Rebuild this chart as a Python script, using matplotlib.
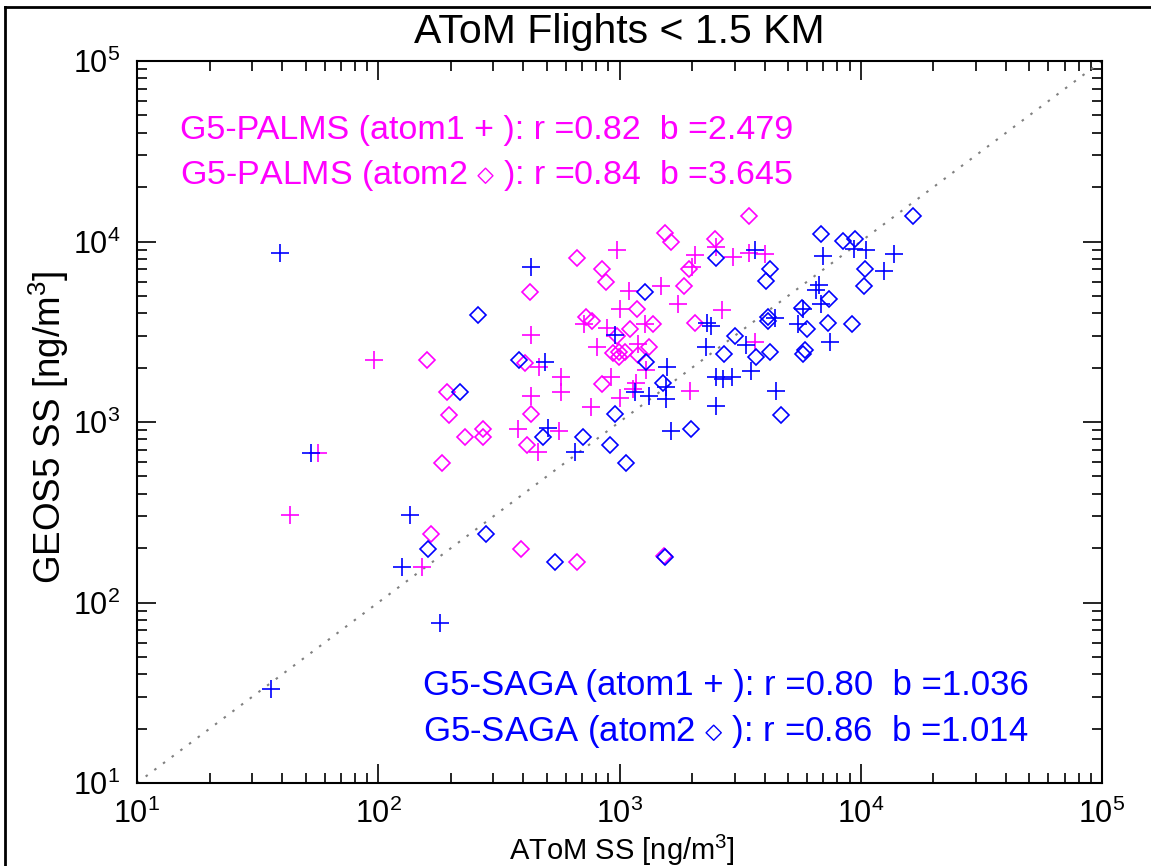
import matplotlib
matplotlib.use('Agg')
import matplotlib.pyplot as plt
from matplotlib.lines import Line2D
from matplotlib.ticker import LogLocator, LogFormatterMathtext, NullFormatter

plt.rcParams['font.family'] = ['Liberation Sans', 'DejaVu Sans']
plt.rcParams['mathtext.fontset'] = 'custom'
plt.rcParams['mathtext.rm'] = 'Liberation Sans'
plt.rcParams['mathtext.it'] = 'Liberation Sans:italic'

# G5-PALMS, atom1 (+)
palms1_x = [96, 56, 43, 152, 975, 2500, 2050, 2000, 1100, 1490, 1740, 2650, 1000, 716, 890, 1270,
            428, 810, 1190, 466, 570, 1290, 918, 1170, 1135, 574, 1960, 431, 1000, 760, 378, 564,
            459, 2950, 3430, 4010, 3630]
palms1_y = [2200, 670, 305, 158, 9000, 9300, 8400, 7200, 5300, 5700, 4500, 4200, 4250, 3500, 3330, 3480,
            3020, 2600, 2700, 2020, 1780, 1940, 1780, 1650, 1530, 1460, 1480, 1390, 1350, 1215, 920, 892,
            683, 8200, 8640, 8500, 2780]

# G5-PALMS, atom2 (diamond)
palms2_x = [160, 193, 196, 228, 183, 165, 1550, 1640, 2490, 666, 1940, 848, 881, 424, 1850, 1180,
            723, 771, 1105, 1380, 2060, 976, 1325, 938, 993, 1050, 993, 1190, 407, 850, 431, 273,
            273, 413, 392, 666, 3450, 1536]
palms2_y = [2200, 1460, 1100, 827, 590, 241, 11200, 9940, 10350, 8140, 7020, 7080, 5970, 5250, 5670, 4250,
            3820, 3610, 3290, 3480, 3520, 2990, 2600, 2410, 2440, 2440, 2290, 2360, 2125, 1630, 1105, 920,
            827, 744, 199, 167, 13800, 182]

# G5-SAGA, atom1 (+)
saga1_x = [39, 52.5, 135, 125, 181, 36, 428, 492, 505, 655, 954, 1573, 1560, 1154, 1330, 1560,
           1637, 2300, 2400, 2290, 2515, 2695, 2920, 2515, 3660, 6990, 9400, 10500, 13700, 12500, 6730, 6520,
           6840, 5740, 4430, 5510, 7480, 3350, 3510, 4460]
saga1_y = [8680, 670, 305, 158, 77, 33, 7220, 2150, 927, 683, 3020, 2020, 1565, 1470, 1390, 1340,
           892, 3540, 3390, 2600, 1780, 1720, 1780, 1230, 8940, 8280, 9140, 9020, 8570, 6840, 5720, 5370,
           4490, 4250, 3790, 3510, 2780, 2660, 1910, 1480]

# G5-SAGA, atom2 (diamond)
saga2_x = [258, 218, 161, 279, 538, 1550, 383, 484, 709, 915, 1060, 960, 1280, 1290, 1510, 1980,
           2515, 2700, 3010, 16400, 6840, 8460, 9490, 4220, 4050, 10440, 10270, 7360, 5690, 4110, 4110, 7290,
           9200, 5990, 3680, 4210, 5890, 5740, 4670]
saga2_y = [3900, 1460, 199, 241, 167, 179, 2200, 827, 827, 744, 589, 1105, 5250, 2150, 1650, 909,
           8100, 2395, 3010, 13800, 10960, 10060, 10380, 7080, 6020, 7080, 5670, 4790, 4300, 3820, 3630, 3540,
           3480, 3290, 2280, 2430, 2500, 2370, 1100]

palms_text = ["G5-PALMS (atom1 + ): r =0.82  b =2.479",
              r"G5-PALMS (atom2 $\diamond$ ): r =0.84  b =3.645"]
saga_text = ["G5-SAGA (atom1 + ): r =0.80  b =1.036",
             r"G5-SAGA (atom2 $\diamond$ ): r =0.86  b =1.014"]

lims = [10, 1e5]
magenta = '#FF00FF'
blue = '#0000FF'

fig = plt.figure(figsize=(11.51, 8.66), dpi=100)
ax = fig.add_axes([137 / 1151, 1 - 783 / 866, 965 / 1151, 722 / 866])

ax.plot(lims, lims, color='#808080', lw=1.5, ls=(0, (1.2, 4)))

ax.plot(palms1_x, palms1_y, ls='none', marker='+', ms=12.5, mew=1.2, color=magenta)
ax.plot(palms2_x, palms2_y, ls='none', marker='D', ms=8.6, mew=1.2, mfc='none', mec=magenta)
ax.plot(saga1_x, saga1_y, ls='none', marker='+', ms=12.5, mew=1.2, color=blue)
ax.plot(saga2_x, saga2_y, ls='none', marker='D', ms=8.6, mew=1.2, mfc='none', mec=blue)

ax.set_xscale('log')
ax.set_yscale('log')
ax.set_xlim(lims)
ax.set_ylim(lims)

for axis in (ax.xaxis, ax.yaxis):
    axis.set_major_locator(LogLocator(base=10, numticks=10))
    axis.set_minor_locator(LogLocator(base=10, subs=range(2, 10), numticks=10))
    axis.set_major_formatter(LogFormatterMathtext())
    axis.set_minor_formatter(NullFormatter())

ax.tick_params(which='both', direction='in', top=True, right=True, width=1.2, labelsize=22)
ax.tick_params(axis='x', pad=11)
ax.tick_params(axis='y', pad=12)
ax.tick_params(which='major', length=14)
ax.tick_params(which='minor', length=7)
for sp in ax.spines.values():
    sp.set_linewidth(1.5)

fig.text(619 / 1151, 1 - 32 / 866, "AToM Flights < 1.5 KM", ha='center', va='center', fontsize=29.5)
fig.text(622 / 1151, 1 - 850 / 866, "AToM SS [ng/m$^3$]", ha='center', va='center', fontsize=21)
fig.text(49 / 1151, 1 - 427 / 866, "GEOS5 SS [ng/m$^3$]", ha='center', va='center',
         rotation=90, fontsize=26.5)

ax.text(0.0446, 0.904, palms_text[0], transform=ax.transAxes, color=magenta, fontsize=24.5, va='center')
ax.text(0.0446, 0.842, palms_text[1], transform=ax.transAxes, color=magenta, fontsize=24.5, va='center')
ax.text(0.2964, 0.1357, saga_text[0], transform=ax.transAxes, color=blue, fontsize=25, va='center')
ax.text(0.2964, 0.072, saga_text[1], transform=ax.transAxes, color=blue, fontsize=25, va='center')

# outer frame (left and top edges)
fig.add_artist(Line2D([5 / 1151, 5 / 1151], [0, 1 - 7 / 866], transform=fig.transFigure, color='black', lw=2))
fig.add_artist(Line2D([5 / 1151, 1], [1 - 7 / 866, 1 - 7 / 866], transform=fig.transFigure, color='black', lw=2))

fig.savefig('out.png', dpi=100)
